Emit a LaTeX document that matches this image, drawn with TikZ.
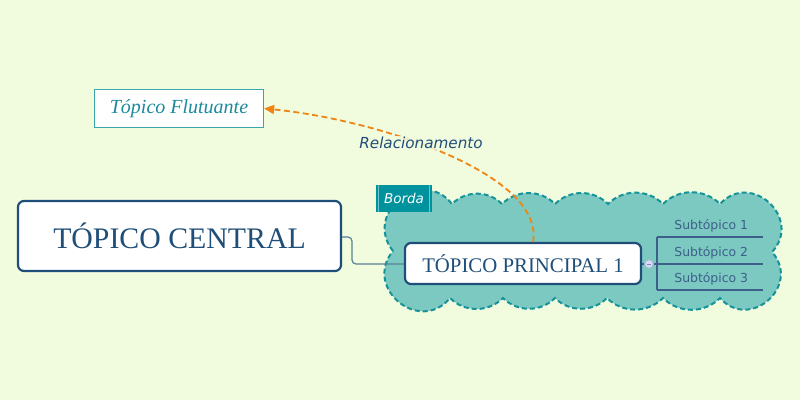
\documentclass[tikz,border=0pt]{standalone}
\usepackage{fontspec}
\setmainfont{Liberation Serif}
\setsansfont{DejaVu Sans}
\usepackage{tikz}
\usetikzlibrary{arrows.meta,positioning,calc}
\definecolor{bgcol}{HTML}{F1FBDD}
\definecolor{cloudfill}{HTML}{7CC9C1}
\definecolor{cloudline}{HTML}{16939A}
\definecolor{bordafill}{HTML}{00939E}
\definecolor{topicblue}{HTML}{1F4E79}
\definecolor{floatteal}{HTML}{3BA5AF}
\definecolor{floattext}{HTML}{1B8A9C}
\definecolor{relorange}{HTML}{EE8514}
\definecolor{subblue}{HTML}{3D5F8A}
\definecolor{connblue}{HTML}{5B8097}
\newcommand{\bump}{to[bend left=45]}
\newcommand{\puff}{to[bend left=90, looseness=1.65]}

\begin{document}
\begin{tikzpicture}[x=1pt, y=-1pt, every node/.style={inner sep=0pt}]
\tikzset{topic/.style={draw=topicblue, line width=2.2pt, rounded corners=6pt, fill=white, text=topicblue}}
\tikzset{subtopic/.style={anchor=south west, minimum width=108pt, minimum height=22pt, text=subblue, font=\sffamily\fontsize{12.4}{14}\selectfont}}
\tikzset{subline/.style={draw=subblue, line width=1.1pt}}
\tikzset{relline/.style={draw=relorange, line width=1.8pt, dash pattern=on 6pt off 3.5pt, -{Triangle[length=10pt, width=9pt]}}}
\fill[bgcol] (0,0) rectangle (800,400);
\useasboundingbox (0,0) rectangle (800,400);
\filldraw[fill=cloudfill, draw=cloudline, line width=2pt, dash pattern=on 5pt off 3pt]
  (393,251) \puff (452,204) \bump (502,204) \bump (555,204) \bump (608,204) \bump (663,204) \bump (720,204)
  \puff (772,252) \puff (720,298) \bump (663,298) \bump (607,298) \bump (555,298) \bump (503,298) \bump (450,298)
  \puff cycle;
\node[topic, minimum width=323pt, minimum height=70pt, font=\fontsize{29.8}{32}\selectfont] (central) at (179.5,236) {TÓPICO CENTRAL};
\node[topic, minimum width=236pt, minimum height=41pt, font=\fontsize{20.8}{23}\selectfont] (main) at (523,263.5) {TÓPICO PRINCIPAL 1};
\node[draw=floatteal, line width=1.2pt, fill=white, minimum width=169pt, minimum height=38pt, text=floattext, font=\itshape\fontsize{20}{22}\selectfont] (float) at (179,108.5) {Tópico Flutuante};
\node[fill=bordafill, minimum width=56pt, minimum height=27pt, text=white, font=\sffamily\itshape\fontsize{13.5}{15}\selectfont,
  path picture={\draw[white!45!bordafill, line width=0.8pt] ([xshift=2.5pt]path picture bounding box.north west) -- ([xshift=2.5pt]path picture bounding box.south west)
    ([xshift=-2.5pt]path picture bounding box.north east) -- ([xshift=-2.5pt]path picture bounding box.south east);}] (borda) at (404,198.5) {Borda\hspace{16pt}};
\draw[connblue, line width=1.2pt, rounded corners=4pt] (central.east |- 0,237) -| (352,264) -- (main.west |- 0,264);
\node[circle, draw=subblue!45, fill=white!85!blue, line width=0.8pt, minimum size=8.5pt,
  path picture={\draw[subblue!70, line width=0.9pt] ([xshift=-2pt]path picture bounding box.center) -- ([xshift=2pt]path picture bounding box.center);}] (knob) at (649,264) {};
\node[subtopic] (sub1) at (657,237) {Subtópico 1};
\node[subtopic] (sub2) at (657,264) {Subtópico 2};
\node[subtopic] (sub3) at (657,290) {Subtópico 3};
\draw[subline] (main.east |- knob) -- (knob);
\draw[subline] (knob) -- (sub2.south west);
\draw[subline] (sub1.south west) -- (sub3.south west);
\foreach \s in {sub1,sub2,sub3} \draw[subline] (\s.south west) -- ([xshift=-2pt]\s.south east);
\draw[relline] ([xshift=10pt]main.north) .. controls (545,175) and (380,120) .. (float.east);
\node[fill=bgcol, fill opacity=0.85, text opacity=1, inner sep=1pt, text=topicblue, font=\sffamily\itshape\fontsize{15.2}{17}\selectfont] (rel) at (421,143) {Relacionamento};
\end{tikzpicture}
\end{document}
